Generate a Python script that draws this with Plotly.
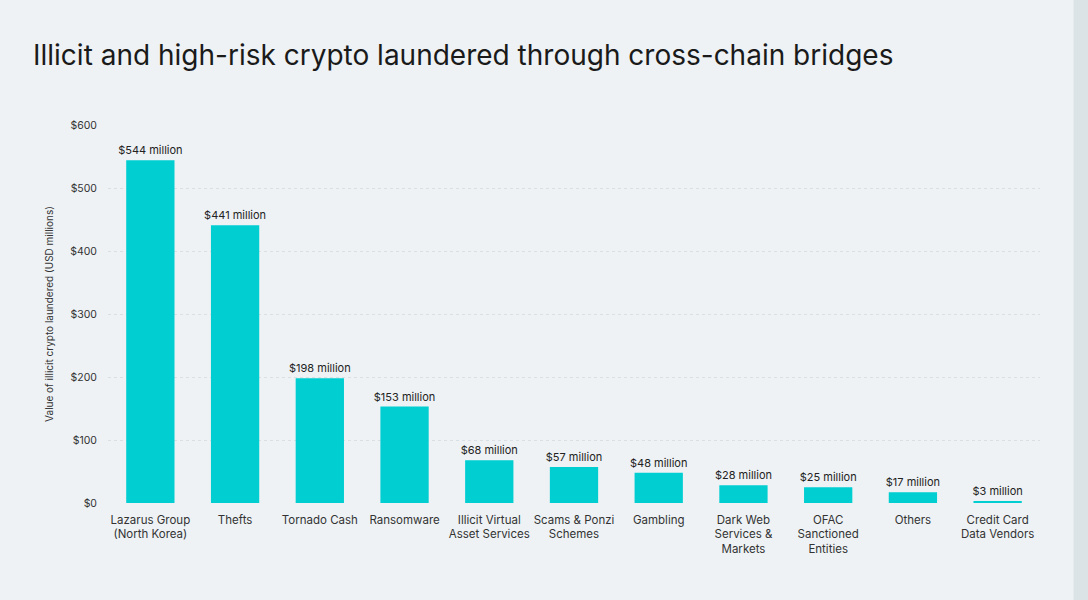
import plotly.graph_objects as go

# datos
categorias = ["Lazarus Group<br>(North Korea)", "Thefts", "Tornado Cash", "Ransomware",
              "Illicit Virtual<br>Asset Services", "Scams & Ponzi<br>Schemes", "Gambling",
              "Dark Web<br>Services &<br>Markets", "OFAC<br>Sanctioned<br>Entities", "Others",
              "Credit Card<br>Data Vendors"]
valores = [544, 441, 198, 153, 68, 57, 48, 28, 25, 17, 3]
etiquetas = ["$" + str(v) + " million" for v in valores]
ticksY = [0, 100, 200, 300, 400, 500, 600]
textoTicksY = ["$" + str(t) for t in ticksY]

fuente = "Inter"
fondo = "#EEF2F5"

fig = go.Figure()
fig.add_trace(go.Bar(
    x=categorias, y=valores,
    marker=dict(color="#00CED1", line=dict(width=0)),
    text=etiquetas, textposition="outside", cliponaxis=False, constraintext="none",
    textfont=dict(family=fuente, size=11, color="#222222"),
    width=0.57,
))

fig.update_layout(
    width=1088, height=600,
    paper_bgcolor=fondo, plot_bgcolor=fondo,
    margin=dict(l=108, r=48, t=125, b=97),
    showlegend=False,
    title=dict(text="Illicit and high-risk crypto laundered through cross-chain bridges",
               x=33 / 1088, xanchor="left", y=1 - 55 / 600, yanchor="middle",
               font=dict(family=fuente, size=28, color="#1A1A1A")),
    font=dict(family=fuente, size=11, color="#333333"),
    shapes=[dict(type="rect", xref="paper", yref="paper",
                 x0=1.036, x1=1.07, y0=-0.3, y1=1.4,
                 fillcolor="#DCE3E6", line=dict(width=0), layer="above")],
)
fig.update_xaxes(showgrid=False, showline=False, ticks="", ticklabelstandoff=8,
                 tickfont=dict(family=fuente, size=11.5, color="#333333"))
fig.update_yaxes(range=[0, 600], tickvals=ticksY, ticktext=textoTicksY,
                 showgrid=True, gridcolor="#DADFE4", gridwidth=1, griddash="dot",
                 zeroline=False, showline=False,
                 ticks="", ticklabelstandoff=10,
                 tickfont=dict(family=fuente, size=10.5, color="#333333"),
                 title=dict(text="Value of illicit crypto laundered (USD millions)",
                            font=dict(family=fuente, size=10, color="#333333"),
                            standoff=14))

fig.write_html("out.html", config={"displayModeBar": False},
               post_script="document.body.style.margin='0';document.body.style.background='#EEF2F5';")
